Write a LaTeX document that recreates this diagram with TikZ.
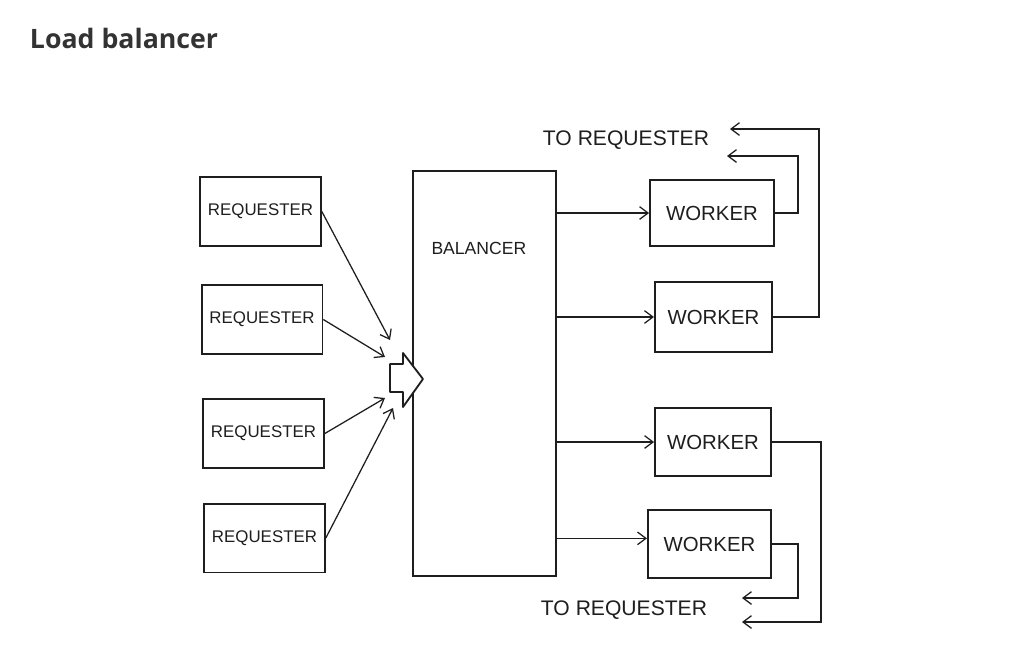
\documentclass[tikz,border=0pt]{standalone}
\usepackage{fontspec}
\setmainfont{Liberation Sans}
\newfontfamily\titlefont{Open Sans}
\usepackage{xcolor}
\usepackage{tikz}
\usetikzlibrary{arrows.meta, positioning}
\definecolor{pencil}{HTML}{1e1e1e}
\definecolor{heading}{HTML}{333333}

\begin{document}
\begin{tikzpicture}[x=0.025cm, y=-0.025cm,
        box/.style={draw=pencil, line width=1.3pt, minimum width=3.02cm, minimum height=1.72cm, inner sep=0pt, text=pencil, font=\fontsize{12}{14}\selectfont},
        wbox/.style={box, minimum width=3cm, minimum height=1.7cm, font=\fontsize{14.5}{16}\selectfont},
        feed/.style={draw=pencil, line width=0.9pt, -{Straight Barb[length=6pt, width=9pt]}},
        note/.style={text=pencil, font=\fontsize{15}{17}\selectfont}]
        \useasboundingbox (0,0) rectangle (1019,660);

        % Title
        \node[anchor=west, text=heading, font=\titlefont\bfseries\fontsize{19}{22}\selectfont] (title) at (25,38) {Load balancer};

        % Requesters
        \node[box] (r1) at (260.5,211.5) {REQUESTER};
        \node[box] (r2) at (262,319.5) {REQUESTER};
        \node[box] (r3) at (263.5,433.5) {REQUESTER};
        \node[box] (r4) at (264.5,538) {REQUESTER};

        % Balancer
        \node[box, minimum width=3.575cm, minimum height=10.125cm] (bal) at (484.5,373.5) {};
        \node[text=pencil, font=\fontsize{12.5}{14}\selectfont, below=1.68cm of bal.north, xshift=-4pt] (ballbl) {BALANCER};

        % Block arrow into the balancer
        \draw[pencil, line width=1.3pt, fill=white, line join=round] (390,364) -- (403,364) -- (403,353) -- (423,379) -- (403,407) -- (403,392) -- (390,392) -- cycle;
        \coordinate (in1) at (390,340);
        \coordinate (in2) at (385,357);
        \coordinate (in3) at (385,398);
        \coordinate (in4) at (393,408);

        % Workers
        \node[wbox, minimum width=3.1cm, minimum height=1.65cm] (w1) at (712,213) {WORKER};
        \node[wbox, minimum width=2.93cm, minimum height=1.75cm] (w2) at (713.5,317) {WORKER};
        \node[wbox, minimum width=2.9cm] (w3) at (713,442) {WORKER};
        \node[wbox, minimum width=3.08cm] (w4) at (709.5,544) {WORKER};

        % Return labels
        \node[note] (ttop) at (626,140) {TO REQUESTER};
        \node[note] (tbot) at (624,610) {TO REQUESTER};
        \coordinate (ret1) at (727,156);
        \coordinate (ret2) at (730,129);
        \coordinate (ret3) at (742,622);
        \coordinate (ret4) at (742,598);

        % Requests in
        \draw[feed] (r1.east) -- (in1);
        \draw[feed] (r2.east) -- (in2);
        \draw[feed] (r3.east) -- (in3);
        \draw[feed] (r4.east) -- (in4);

        % Balancer out to workers
        \draw[feed] (bal.east |- w1.west) -- (w1.west);
        \draw[feed] (bal.east |- w2.west) -- (w2.west);
        \draw[feed] (bal.east |- w3.west) -- (w3.west);
        \draw[feed] ([yshift=4pt]bal.east |- w4.west) -- ([yshift=4pt]w4.west);

        % Results back
        \draw[feed] (w1.east) -- ++(23,0) |- (ret1);
        \draw[feed] (w2.east) -- ++(46,0) |- (ret2);
        \draw[feed] (w3.east) -- ++(49,0) |- (ret3);
        \draw[feed] (w4.east) -- ++(26,0) |- (ret4);
    \end{tikzpicture}
\end{document}
